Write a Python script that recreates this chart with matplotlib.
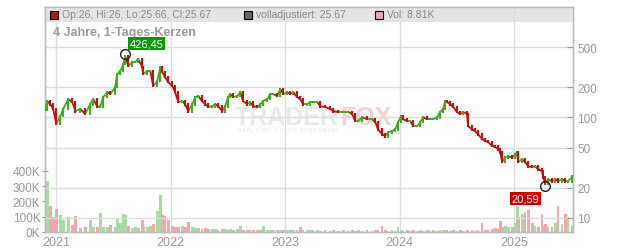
import pandas as pd
import numpy as np
import matplotlib
matplotlib.use("Agg")
import matplotlib.pyplot as plt
from matplotlib.patches import Rectangle
from matplotlib.collections import LineCollection
import matplotlib.dates as mdates

plt.rcParams['font.family'] = ['Liberation Sans', 'DejaVu Sans']

dates = [
    "2020-11-27", "2020-12-03", "2020-12-13", "2020-12-22", "2021-01-01", "2021-01-14", "2021-01-23", "2021-02-08", "2021-02-21", "2021-03-03",
    "2021-03-19", "2021-04-03", "2021-04-19", "2021-04-29", "2021-05-12", "2021-05-21", "2021-05-31", "2021-06-13", "2021-06-22", "2021-07-08",
    "2021-07-14", "2021-07-24", "2021-08-03", "2021-08-09", "2021-08-19", "2021-08-31", "2021-09-10", "2021-09-19", "2021-10-02", "2021-10-05",
    "2021-10-18", "2021-10-28", "2021-11-06", "2021-11-19", "2021-11-29", "2021-12-05", "2021-12-14", "2021-12-24", "2022-01-06", "2022-01-15",
    "2022-01-25", "2022-02-07", "2022-02-16", "2022-02-26", "2022-03-11", "2022-03-20", "2022-03-30", "2022-04-11", "2022-04-21", "2022-05-01",
    "2022-05-13", "2022-05-23", "2022-06-01", "2022-06-14", "2022-06-24", "2022-07-03", "2022-07-10", "2022-07-19", "2022-08-01", "2022-08-11",
    "2022-08-20", "2022-09-02", "2022-09-11", "2022-09-21", "2022-10-04", "2022-10-14", "2022-10-23", "2022-11-05", "2022-11-14", "2022-11-24",
    "2022-12-07", "2022-12-16", "2022-12-26", "2023-01-08", "2023-01-17", "2023-01-27", "2023-02-08", "2023-02-18", "2023-02-27", "2023-03-12",
    "2023-03-22", "2023-03-31", "2023-04-13", "2023-04-23", "2023-05-08", "2023-05-24", "2023-06-03", "2023-06-19", "2023-07-05", "2023-07-21",
    "2023-08-03", "2023-08-12", "2023-08-22", "2023-09-03", "2023-09-19", "2023-10-05", "2023-10-15", "2023-10-24", "2023-11-06", "2023-11-16",
    "2023-11-25", "2023-12-08", "2023-12-18", "2023-12-27", "2024-01-06", "2024-01-12", "2024-01-25", "2024-02-04", "2024-02-13", "2024-02-26",
    "2024-03-07", "2024-03-16", "2024-03-29", "2024-04-07", "2024-04-17", "2024-04-30", "2024-05-09", "2024-05-19", "2024-05-25", "2024-05-31",
    "2024-06-10", "2024-06-20", "2024-07-02", "2024-07-12", "2024-07-22", "2024-08-03", "2024-08-06", "2024-08-19", "2024-08-29", "2024-09-07",
    "2024-09-20", "2024-09-30", "2024-10-09", "2024-10-22", "2024-11-01", "2024-11-10", "2024-11-17", "2024-11-23", "2024-12-03", "2024-12-12",
    "2024-12-25", "2025-01-04", "2025-01-10", "2025-01-13", "2025-01-26", "2025-02-04", "2025-02-14", "2025-02-27", "2025-03-08", "2025-03-18",
    "2025-03-30", "2025-04-03", "2025-04-09", "2025-04-18", "2025-05-01", "2025-05-11", "2025-05-20", "2025-06-02", "2025-06-12", "2025-06-21",
    "2025-07-04",
]

closes = [
    118, 145, 135, 121, 86, 103, 121, 152, 142, 115,
    121, 108, 135, 152, 127, 129, 159, 178, 170, 200,
    270, 289, 339, 400, 324, 355, 355, 380, 316, 269,
    289, 289, 205, 229, 316, 282, 251, 224, 205, 178,
    142, 145, 135, 115, 135, 159, 163, 145, 135, 127,
    129, 135, 129, 115, 129, 159, 170, 159, 163, 178,
    145, 135, 142, 129, 127, 135, 145, 152, 170, 170,
    163, 191, 170, 178, 170, 178, 159, 152, 135, 135,
    142, 142, 142, 129, 127, 121, 115, 113, 113, 113,
    108, 92, 92, 100, 96, 96, 90, 76, 68, 65,
    71, 73, 76, 90, 103, 96, 92, 92, 82, 82,
    90, 100, 96, 96, 96, 100, 113, 121, 145, 142,
    135, 127, 113, 108, 113, 108, 82, 76, 73, 68,
    61, 58, 57, 52, 51, 48, 45, 36, 40, 41,
    40, 43, 45, 36, 38.4, 35.9, 32.7, 32, 32.7, 30.5,
    29.2, 25.4, 22, 24.3, 23.2, 24.3, 23.2, 24.3, 23.2, 23.2,
    25.67,
]

# volume in thousands
volumes = [
    80, 336, 170, 100, 150, 110, 80, 100, 45, 105,
    25, 30, 80, 35, 30, 125, 30, 35, 48, 30,
    87, 60, 120, 108, 40, 25, 30, 25, 80, 30,
    30, 40, 50, 135, 243, 108, 104, 80, 40, 35,
    30, 40, 30, 65, 30, 25, 25, 20, 25, 20,
    18, 20, 15, 18, 20, 15, 18, 15, 20, 40,
    15, 12, 15, 12, 15, 12, 40, 15, 12, 15,
    12, 15, 10, 12, 10, 15, 10, 30, 12, 10,
    10, 12, 10, 8, 10, 8, 10, 8, 10, 8,
    10, 8, 10, 8, 10, 8, 10, 12, 40, 10,
    8, 10, 8, 30, 10, 8, 10, 8, 10, 8,
    10, 8, 10, 8, 10, 8, 12, 10, 15, 10,
    8, 10, 8, 10, 8, 12, 15, 10, 8, 10,
    60, 12, 15, 20, 25, 20, 70, 30, 40, 35,
    30, 60, 170, 95, 120, 130, 145, 60, 40, 35,
    120, 40, 50, 30, 35, 60, 170, 50, 120, 100,
    40,
]

high_date, high_val = "2021-08-09", 426.45
low_date, low_val = "2025-04-09", 20.59
years = ["2021", "2022", "2023", "2024", "2025"]
price_ticks = [10, 20, 50, 100, 200, 500]
vol_ticks = [0, 100, 200, 300, 400]

df = pd.DataFrame({"date": pd.to_datetime(dates), "close": closes, "vol": volumes})
df["open"] = df["close"].shift(1).fillna(df["close"])
up = (df["close"] >= df["open"]).to_numpy()

GRAY_TXT = "#999999"
GRID = "#dddddd"
SPINE = "#bbbbbb"
UP_C, DN_C = "#3faa22", "#c41010"

fig = plt.figure(figsize=(6.32, 2.53), dpi=100)
ax_vol = fig.add_axes([45 / 632, 20 / 253, 528 / 632, 225 / 253])
ax = ax_vol.twinx()

# volume bars
ax_vol.bar(df["date"], df["vol"], width=9,
           color=np.where(up, "#a8dba2", "#f2a6ae"), zorder=2)
ax_vol.set_ylim(0, 1470)
ax_vol.set_yticks(vol_ticks)
ax_vol.set_yticklabels([f"{v}K" for v in vol_ticks])
ax_vol.tick_params(axis="y", direction="inout", length=4.5, color="#999999",
                   labelcolor=GRAY_TXT, labelsize=8.5, pad=1)

xlim = (pd.Timestamp("2020-11-26"), pd.Timestamp("2025-07-07"))
ax_vol.set_xlim(xlim)
ax_vol.set_xticks([pd.Timestamp(f"{y}-01-01") for y in years])
ax_vol.set_xticklabels(years)
ax_vol.tick_params(axis="x", length=0, labelcolor=GRAY_TXT, labelsize=9, pad=3)
ax_vol.grid(axis="x", color=GRID, linewidth=1)
ax_vol.set_axisbelow(True)

# price: segments between closes coloured by direction, plus candle bodies
xs = mdates.date2num(df["date"])
cl = df["close"].to_numpy()
segs = [[(xs[i - 1], cl[i - 1]), (xs[i], cl[i])] for i in range(1, len(xs))]
ax.add_collection(LineCollection(segs, colors=np.where(up[1:], UP_C, DN_C),
                                 linewidths=1.3, zorder=3))
lo = np.minimum(df["open"], df["close"]) * 0.97
hi = np.maximum(df["open"], df["close"]) * 1.03
ax.vlines(df["date"], lo, hi, colors=np.where(up, UP_C, DN_C),
          linewidth=1.5, zorder=3)
ax.set_yscale("log")
ax.set_ylim(7.25, 1250)
ax.set_yticks(price_ticks)
ax.set_yticklabels([str(v) for v in price_ticks])
ax.yaxis.set_minor_locator(matplotlib.ticker.NullLocator())
ax.tick_params(axis="y", direction="in", length=4, color="#999999",
               labelcolor=GRAY_TXT, labelsize=8.5, pad=3)
ax.grid(axis="y", color=GRID, linewidth=1)
ax.set_axisbelow(True)
ax.set_xlim(xlim)

for a in (ax, ax_vol):
    for s in a.spines.values():
        s.set_color(SPINE)
        s.set_linewidth(1)

# header band
ax.add_patch(Rectangle((0, 1 - 15 / 225), 1, 15 / 225, transform=ax.transAxes,
                       facecolor="#e4e4e4", edgecolor="none", zorder=1))
ax.axvline(pd.Timestamp("2025-01-01"), ymin=1 - 15 / 225, ymax=1,
           color=GRID, linewidth=1, zorder=1.5)
hy = 1 - 7.5 / 225
legend_items = [
    (0.0165, 0.0316, "#b51515", "Op:26, Hi:26, Lo:25.66, Cl:25.67"),
    (0.3854, 0.3996, "#666666", "volladjustiert: 25.67"),
    (0.633, 0.6477, "#f0a8b0", "Vol: 8.81K"),
]
for sx, tx, c, label in legend_items:
    ax.plot([sx], [hy], marker="s", markersize=5.5, color=c, markeredgecolor="black",
            markeredgewidth=0.8, transform=ax.transAxes, clip_on=False, zorder=4)
    ax.text(tx, hy, label, transform=ax.transAxes, ha="left", va="center",
            fontsize=7.5, color="#888888", zorder=4)

ax.text(0.0158, 1 - 25.3 / 225, "4 Jahre, 1-Tages-Kerzen", transform=ax.transAxes,
        ha="left", va="center", fontsize=9, fontweight="bold", color=GRAY_TXT, zorder=4)

# watermark
ax_vol.text(235 / 632, 1 - 118 / 253, "TRADER", transform=fig.transFigure, ha="left",
            va="center", fontsize=18, fontweight="bold", color="#e9e9e9", zorder=1)
ax_vol.text(340 / 632, 1 - 118 / 253, "FOX", transform=fig.transFigure, ha="left",
            va="center", fontsize=18, fontweight="bold", color="#f7d0d0", zorder=1)
ax_vol.text(238 / 632, 1 - 131 / 253, "R E A L T I M E   S T O C K   S C R E E N I N G",
            transform=fig.transFigure, ha="left", va="center", fontsize=3.4,
            color="#e2e2e2", zorder=1)

# high / low markers
hd, ld = pd.Timestamp(high_date), pd.Timestamp(low_date)
ax.plot([hd], [high_val], marker="o", markersize=7, markerfacecolor="none",
        markeredgecolor="#222222", markeredgewidth=1, zorder=5)
ax.annotate(f"{high_val:.2f}".replace(".", ","), xy=(hd, high_val), xytext=(15.5, 7.5),
            textcoords="offset points", ha="center", va="center", fontsize=8, color="white",
            bbox=dict(boxstyle="square,pad=0.15", fc="#079a07", ec="none"), zorder=6)
ax.plot([ld], [low_val], marker="o", markersize=7, markerfacecolor="none",
        markeredgecolor="#222222", markeredgewidth=1, zorder=5)
ax.annotate(f"{low_val:.2f}".replace(".", ","), xy=(ld, low_val), xytext=(-14, -8.5),
            textcoords="offset points", ha="center", va="center", fontsize=8, color="white",
            bbox=dict(boxstyle="square,pad=0.15", fc="#cc0000", ec="none"), zorder=6)

fig.savefig("out.png", dpi=100)
